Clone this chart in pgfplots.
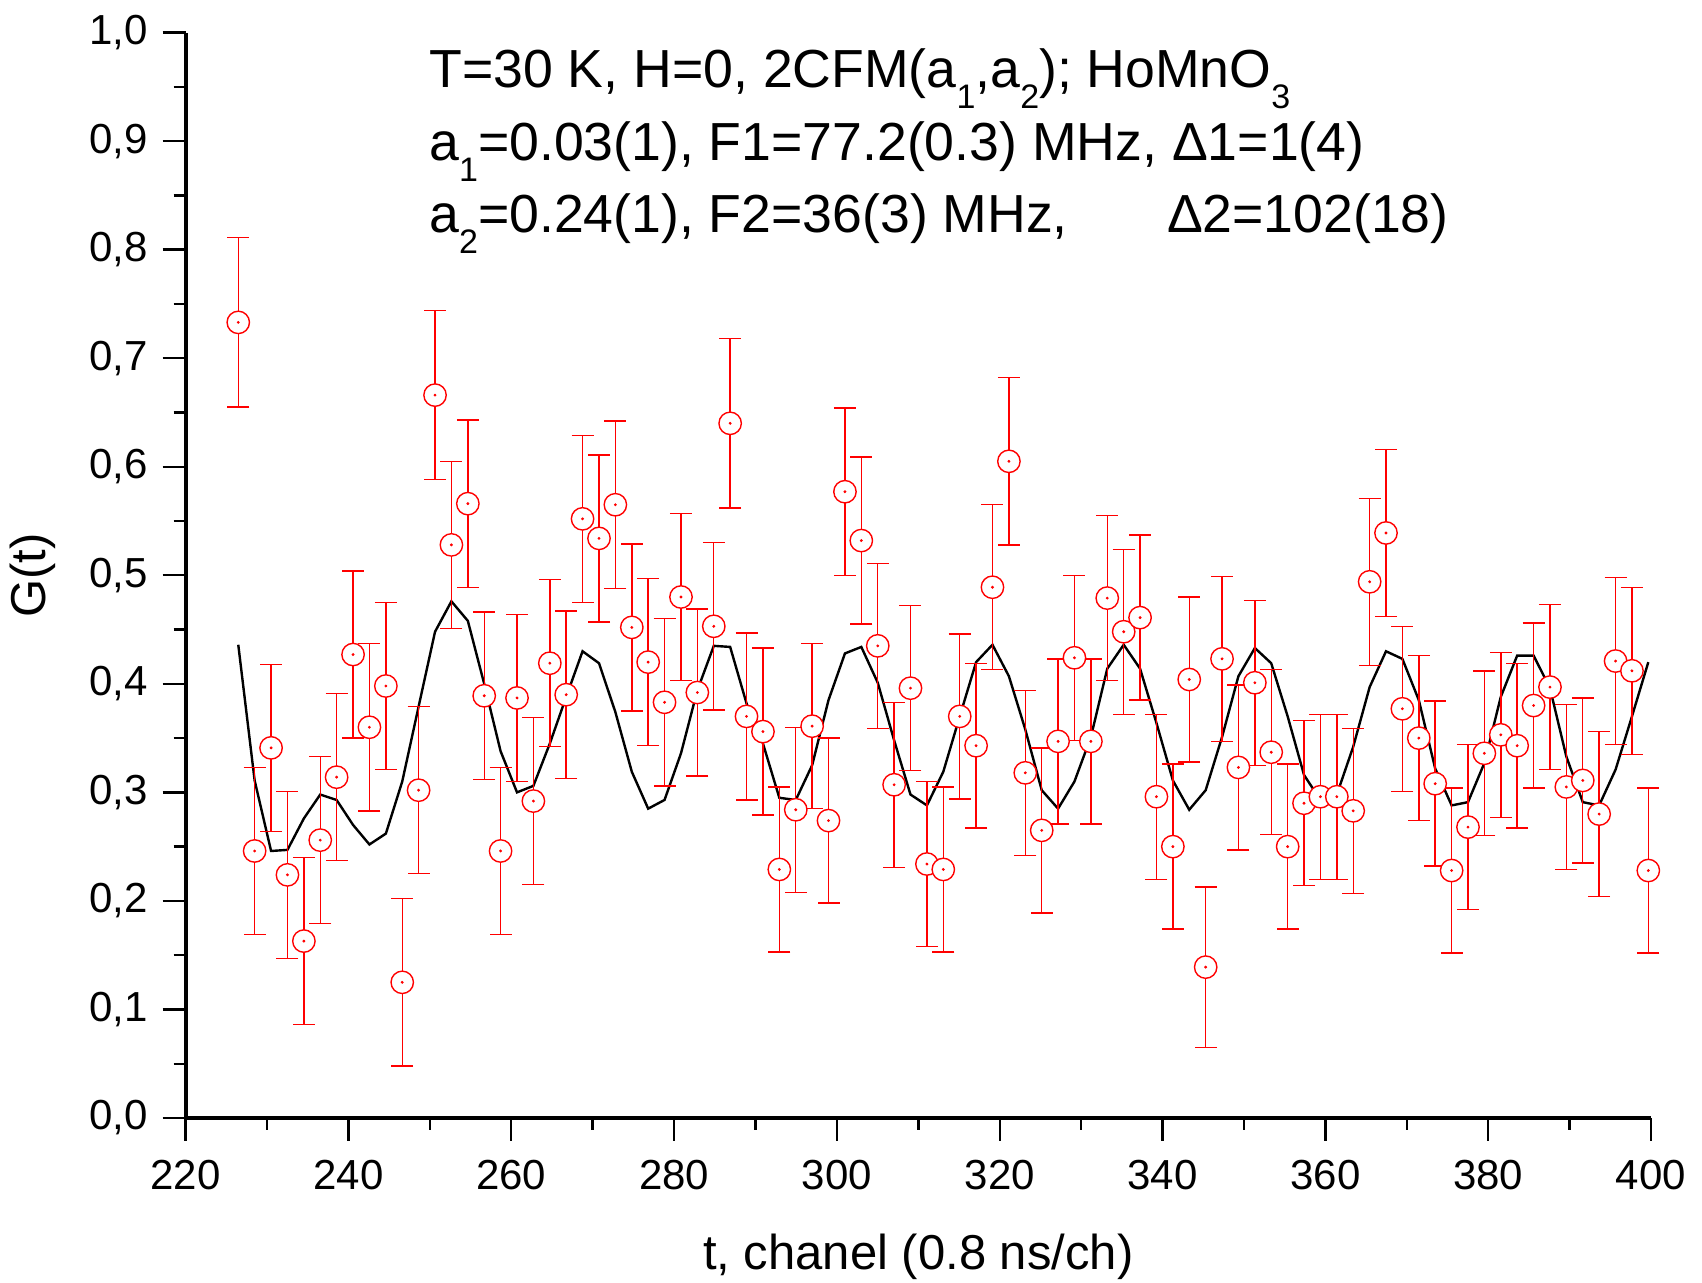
\documentclass[border=0pt]{standalone}
\usepackage{fontspec}
\setmainfont{Liberation Sans}
\usepackage{pgfplots}
\pgfplotsset{compat=1.18}
\usepackage{pgfplotstable}

\pgfplotstableread{
x y e f
226.47 0.733 0.078 0.436
228.48 0.246 0.077 0.311
230.50 0.341 0.077 0.246
232.51 0.224 0.077 0.247
234.53 0.163 0.077 0.276
236.54 0.256 0.077 0.298
238.55 0.314 0.077 0.293
240.57 0.427 0.077 0.270
242.58 0.360 0.077 0.252
244.60 0.398 0.077 0.262
246.61 0.125 0.077 0.310
248.62 0.302 0.077 0.379
250.64 0.666 0.078 0.448
252.65 0.528 0.077 0.476
254.67 0.566 0.077 0.458
256.68 0.389 0.077 0.400
258.69 0.246 0.077 0.338
260.71 0.387 0.077 0.300
262.72 0.292 0.077 0.306
264.74 0.419 0.077 0.345
266.75 0.390 0.077 0.388
268.76 0.552 0.077 0.430
270.78 0.534 0.077 0.419
272.79 0.565 0.077 0.374
274.81 0.452 0.077 0.319
276.82 0.420 0.077 0.285
278.83 0.383 0.077 0.293
280.85 0.480 0.077 0.336
282.86 0.392 0.077 0.394
284.88 0.453 0.077 0.435
286.89 0.640 0.078 0.434
288.90 0.370 0.077 0.382
290.92 0.356 0.077 0.345
292.93 0.229 0.076 0.295
294.95 0.284 0.076 0.293
296.96 0.361 0.076 0.325
298.97 0.274 0.076 0.385
300.99 0.577 0.077 0.428
303.00 0.532 0.077 0.434
305.02 0.435 0.076 0.401
307.03 0.307 0.076 0.348
309.04 0.396 0.076 0.298
311.06 0.234 0.076 0.288
313.07 0.229 0.076 0.319
315.09 0.370 0.076 0.370
317.10 0.343 0.076 0.420
319.11 0.489 0.076 0.436
321.13 0.605 0.077 0.407
323.14 0.318 0.076 0.358
325.16 0.265 0.076 0.302
327.17 0.347 0.076 0.285
329.18 0.424 0.076 0.310
331.20 0.347 0.076 0.351
333.21 0.479 0.076 0.414
335.23 0.448 0.076 0.436
337.24 0.461 0.076 0.414
339.25 0.296 0.076 0.364
341.27 0.250 0.076 0.311
343.28 0.404 0.076 0.284
345.30 0.139 0.074 0.302
347.31 0.423 0.076 0.351
349.32 0.323 0.076 0.407
351.34 0.401 0.076 0.433
353.35 0.337 0.076 0.419
355.37 0.250 0.076 0.370
357.38 0.290 0.076 0.316
359.39 0.296 0.076 0.293
361.41 0.296 0.076 0.298
363.42 0.283 0.076 0.342
365.44 0.494 0.077 0.397
367.45 0.539 0.077 0.430
369.46 0.377 0.076 0.423
371.48 0.350 0.076 0.385
373.49 0.308 0.076 0.322
375.51 0.228 0.076 0.288
377.52 0.268 0.076 0.291
379.53 0.336 0.076 0.327
381.55 0.353 0.076 0.388
383.56 0.343 0.076 0.426
385.58 0.380 0.076 0.426
387.59 0.397 0.076 0.396
389.60 0.305 0.076 0.333
391.62 0.311 0.076 0.291
393.63 0.280 0.076 0.288
395.65 0.421 0.077 0.321
397.66 0.412 0.077 0.370
399.67 0.228 0.076 0.420
}\data

\newcommand{\sub}[1]{\raisebox{-10.5pt}{\fontsize{17pt}{17pt}\selectfont #1}}

\begin{document}
\begin{tikzpicture}
\useasboundingbox (-92.8pt,-82.5pt) rectangle (758.2pt,559pt);
\begin{axis}[
  at={(0,0)}, anchor=south west,
  scale only axis, width=732.7pt, height=542.7pt,
  xmin=220, xmax=400, ymin=0, ymax=1,
  axis x line*=bottom, axis y line*=left,
  axis line style={line width=2pt, black},
  xtick={220,240,260,280,300,320,340,360,380,400},
  ytick={0,0.1,0.2,0.3,0.4,0.5,0.6,0.7,0.8,0.9,1.0},
  minor x tick num=1, minor y tick num=1,
  tick align=outside,
  major tick length=11.5pt, minor tick length=6pt,
  every tick/.style={black, line width=1.2pt},
  tick label style={font=\fontsize{21pt}{25pt}\selectfont},
  /pgf/number format/assume math mode=true,
  y tick label style={xshift=-4pt, /pgf/number format/.cd, fixed, fixed zerofill, precision=1, use comma},
  x tick label style={yshift=-6pt, /pgf/number format/.cd, fixed, precision=0, 1000 sep={}},
  xlabel={t, chanel (0.8 ns/ch)},
  ylabel={G(t)},
  label style={font=\fontsize{24.5pt}{29pt}\selectfont},
  xlabel style={at={(axis description cs:0.5,-0.1281)}, anchor=center},
  ylabel style={at={(axis description cs:-0.1041,0.5)}, anchor=center},
  clip=false,
]
\addplot[black, line width=1.2pt, no marks] table[x=x,y=f]{\data};
\addplot[red, only marks, mark=*, mark size=5.6pt,
  mark options={fill=white, draw=red, line width=0.7pt},
  error bars/.cd, y dir=both, y explicit,
  error bar style={red, line width=0.7pt},
  error mark options={rotate=90, red, mark size=5.5pt, line width=0.7pt}]
  table[x=x,y=y,y error=e]{\data};
\addplot[red, only marks, mark=*, mark size=0.5pt] table[x=x,y=y]{\data};
\end{axis}
\begin{scope}[every node/.style={inner sep=0pt, anchor=base west, font=\fontsize{26.8pt}{32pt}\selectfont}]
\node at (121.7pt,515pt) {T=30 K, H=0, 2CFM(a\sub{1},a\sub{2}); HoMnO\sub{3}};
\node at (121.7pt,478.7pt) {a\sub{1}=0.03(1), F1=77.2(0.3) MHz, Δ1=1(4)};
\node at (121.7pt,442.9pt) {a\sub{2}=0.24(1), F2=36(3) MHz,};
\node at (490.5pt,442.9pt) {Δ2=102(18)};
\end{scope}
\end{tikzpicture}
\end{document}
